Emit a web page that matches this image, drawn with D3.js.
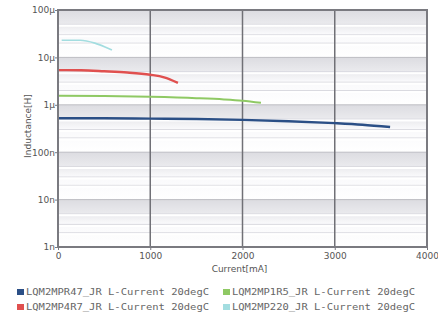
<!DOCTYPE html>
<html><head><meta charset="utf-8">
<script src="https://cdn.jsdelivr.net/npm/d3@7"></script>
<style>body{margin:0;background:#fff}svg{display:block}</style>
</head><body>
<script>
const xTicks = [0, 1000, 2000, 3000, 4000];
const yTicks = [1e-4, 1e-5, 1e-6, 1e-7, 1e-8, 1e-9];
const yTickLabels = ["100\u03bc", "10\u03bc", "1\u03bc", "100n", "10n", "1n"];
const seriesNames = ["LQM2MPR47_JR L-Current 20degC", "LQM2MP1R5_JR L-Current 20degC", "LQM2MP4R7_JR L-Current 20degC", "LQM2MP220_JR L-Current 20degC"];
const seriesColors = ["#2b4f86", "#8fc964", "#e0504f", "#a3dde0"];
const currentR47 = [0, 500, 1000, 1500, 2000, 2500, 3000, 3300, 3600];
const valuesR47 = [0.52e-6, 0.52e-6, 0.51e-6, 0.50e-6, 0.48e-6, 0.45e-6, 0.41e-6, 0.38e-6, 0.34e-6];
const current1R5 = [0, 500, 1000, 1500, 1800, 2000, 2200];
const values1R5 = [1.55e-6, 1.53e-6, 1.47e-6, 1.38e-6, 1.3e-6, 1.22e-6, 1.1e-6];
const current4R7 = [0, 250, 500, 750, 1000, 1150, 1300];
const values4R7 = [5.4e-6, 5.35e-6, 5.1e-6, 4.8e-6, 4.3e-6, 3.8e-6, 2.9e-6];
const current220 = [40, 240, 400, 510, 585];
const values220 = [23e-6, 23e-6, 20e-6, 16.6e-6, 14.3e-6];

const W = 438, H = 323;
const m = {l: 58, r: 11, t: 10, b: 76};
const pw = W - m.l - m.r, ph = H - m.t - m.b;
const svg = d3.select("body").append("svg").attr("width", W).attr("height", H);
const x = d3.scaleLinear().domain([0, 4000]).range([m.l, m.l + pw]);
const y = d3.scaleLog().domain([1e-9, 1e-4]).range([m.t + ph, m.t]);

const defs = svg.append("defs");
const grad = defs.append("linearGradient").attr("id", "band").attr("x1", 0).attr("x2", 0).attr("y1", 0).attr("y2", 1);
grad.append("stop").attr("offset", "0").attr("stop-color", "#dcdce1");
grad.append("stop").attr("offset", "0.35").attr("stop-color", "#ededf0");
grad.append("stop").attr("offset", "0.5").attr("stop-color", "#f9f9fb");
grad.append("stop").attr("offset", "1").attr("stop-color", "#ffffff");

const decades = d3.range(-9, -4).map(e => Math.pow(10, e));
svg.append("g").selectAll("rect").data(decades).join("rect")
  .attr("x", m.l).attr("width", pw)
  .attr("y", d => y(d * 10)).attr("height", d => y(d) - y(d * 10))
  .attr("fill", "url(#band)");

const minors = [];
decades.forEach(d => { [2, 3, 5].forEach(k => minors.push(d * k)); });
svg.append("g").selectAll("line").data(minors).join("line")
  .attr("x1", m.l).attr("x2", m.l + pw)
  .attr("y1", d => y(d)).attr("y2", d => y(d))
  .attr("stroke", "#dadae0").attr("stroke-width", 1);
svg.append("g").selectAll("line").data(minors).join("line")
  .attr("x1", m.l).attr("x2", m.l + pw)
  .attr("y1", d => y(d) + 1.5).attr("y2", d => y(d) + 1.5)
  .attr("stroke", "#ffffff").attr("stroke-width", 2);

svg.append("g").selectAll("line").data(yTicks).join("line")
  .attr("x1", m.l).attr("x2", m.l + pw)
  .attr("y1", d => y(d)).attr("y2", d => y(d))
  .attr("stroke", "#bcbcc2").attr("stroke-width", 1);

svg.append("g").selectAll("line").data(xTicks.slice(1, -1)).join("line")
  .attr("x1", d => x(d)).attr("x2", d => x(d))
  .attr("y1", m.t).attr("y2", m.t + ph)
  .attr("stroke", "#707076").attr("stroke-width", 1.5);

const series = [
  {c: current220, v: values220, col: seriesColors[3], w: 1.6},
  {c: current4R7, v: values4R7, col: seriesColors[2], w: 2.4},
  {c: current1R5, v: values1R5, col: seriesColors[1], w: 2},
  {c: currentR47, v: valuesR47, col: seriesColors[0], w: 2.4}
];
const line = d3.line().x(d => x(d[0])).y(d => y(d[1])).curve(d3.curveMonotoneX);
series.forEach(s => {
  svg.append("path").datum(s.c.map((c, i) => [c, s.v[i]]))
    .attr("d", line).attr("fill", "none").attr("stroke", s.col).attr("stroke-width", s.w);
});

svg.append("rect").attr("x", m.l).attr("y", m.t).attr("width", pw).attr("height", ph)
  .attr("fill", "none").attr("stroke", "#7a7a80").attr("stroke-width", 2);

const yAxis = d3.axisLeft(y).tickValues(yTicks).tickFormat((d, i) => yTickLabels[i]).tickSize(3);
const yg = svg.append("g").attr("transform", `translate(${m.l},0)`).call(yAxis);
const xAxis = d3.axisBottom(x).tickValues(xTicks).tickFormat(d3.format("d")).tickSize(3);
const xg = svg.append("g").attr("transform", `translate(0,${m.t + ph})`).call(xAxis);
[yg, xg].forEach(g => {
  g.select(".domain").remove();
  g.selectAll(".tick line").attr("stroke", "#7a7a80");
  g.selectAll("text").attr("fill", "#555").style("font-family", "DejaVu Sans").style("font-size", "9px");
});
yg.selectAll("text").attr("x", -3);

svg.append("text").attr("x", x(2000) - 3).attr("y", 272).attr("text-anchor", "middle")
  .attr("fill", "#555").style("font-family", "DejaVu Sans").style("font-size", "9px").text("Current[mA]");
svg.append("text").attr("transform", `translate(31,${126}) rotate(-90)`).attr("text-anchor", "middle")
  .attr("fill", "#555").style("font-family", "DejaVu Sans").style("font-size", "9px").text("Inductance[H]");

const legOrder = [0, 1, 2, 3];
const lg = svg.append("g");
legOrder.forEach((idx, i) => {
  const col = i % 2, row = Math.floor(i / 2);
  const lx = col === 0 ? 17 : 223, ly = row === 0 ? 292 : 307;
  lg.append("rect").attr("x", lx).attr("y", ly - 3).attr("width", 7).attr("height", 6).attr("fill", seriesColors[idx]);
  lg.append("text").attr("x", lx + 9).attr("y", ly + 3)
    .attr("textLength", 183).attr("lengthAdjust", "spacingAndGlyphs")
    .attr("fill", "#666").style("font-family", "DejaVu Sans Mono").style("font-size", "8.5px")
    .text(seriesNames[idx]);
});
</script>
</body></html>
